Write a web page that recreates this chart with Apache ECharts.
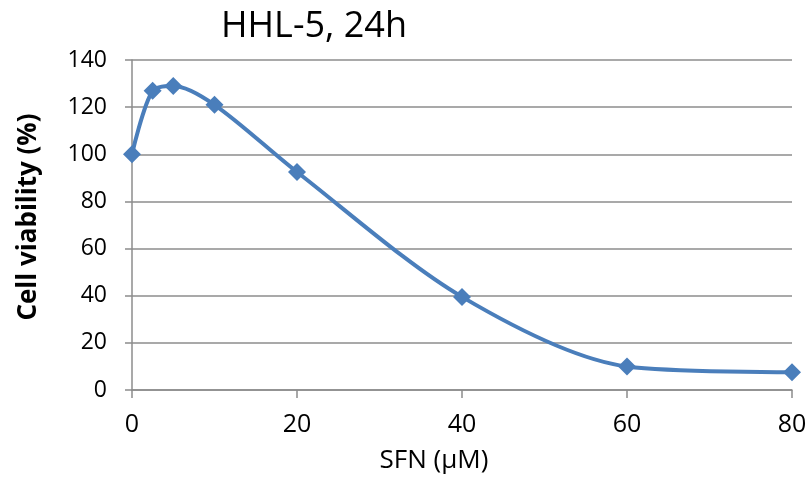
<!DOCTYPE html>
<html>
<head>
<meta charset="utf-8">
<script src="https://cdn.jsdelivr.net/npm/echarts@6/dist/echarts.min.js"></script>
<style>
  html, body { margin: 0; padding: 0; background: #fff; }
  #chart { width: 812px; height: 484px; }
</style>
</head>
<body>
<div id="chart"></div>
<script>
// SFN concentration (µM) and cell viability (%)
const doses = [0, 2.5, 5, 10, 20, 40, 60, 80];
const viability = [100, 127, 129, 121, 92.5, 39.5, 10, 7.5];
const xTicks = [0, 20, 40, 60, 80];
const yTicks = [0, 20, 40, 60, 80, 100, 120, 140];

const font = "'Open Sans', 'Liberation Sans', sans-serif";
const axisGrey = "#8c8c8c";

const chart = echarts.init(document.getElementById("chart"));

chart.setOption({
  backgroundColor: "#fff",
  animation: false,
  title: {
    text: "HHL-5, 24h",
    left: 216,
    top: 4,
    textStyle: { fontFamily: font, fontSize: 36, fontWeight: "normal", color: "#000" },
  },
  grid: { left: 132, right: 20, top: 60, bottom: 94 },
  xAxis: {
    type: "value",
    min: xTicks[0],
    max: xTicks[xTicks.length - 1],
    interval: 20,
    name: "SFN (µM)",
    nameLocation: "middle",
    nameGap: 58,
    nameTextStyle: { fontFamily: font, fontSize: 26, color: "#000", padding: [0, 56, 0, 0] },
    axisLine: { show: true, lineStyle: { color: axisGrey, width: 1.5 } },
    axisTick: { show: true, length: 8, inside: false, lineStyle: { color: axisGrey, width: 1.5 } },
    axisLabel: { fontFamily: font, fontSize: 25, color: "#000", margin: 22 },
    splitLine: { show: false },
  },
  yAxis: {
    type: "value",
    min: yTicks[0],
    max: yTicks[yTicks.length - 1],
    interval: 20,
    name: "Cell viability (%)",
    nameLocation: "middle",
    nameGap: 90,
    nameRotate: 90,
    nameTextStyle: { fontFamily: font, fontSize: 26, fontWeight: "bold", color: "#000", padding: [0, 0, 0, 16] },
    axisLine: { show: true, lineStyle: { color: axisGrey, width: 1.5 } },
    axisTick: { show: true, length: 7, lineStyle: { color: axisGrey, width: 1.5 } },
    axisLabel: { fontFamily: font, fontSize: 23, color: "#000", margin: 25 },
    splitLine: { show: true, lineStyle: { color: axisGrey, width: 1.5 } },
  },
  series: [
    {
      type: "line",
      data: doses.map((d, i) => [d, viability[i]]),
      smooth: 0.3,
      symbol: "diamond",
      symbolSize: 18,
      lineStyle: { color: "#4a7ebb", width: 4 },
      itemStyle: { color: "#4a7ebb" },
    },
  ],
});
</script>
</body>
</html>
